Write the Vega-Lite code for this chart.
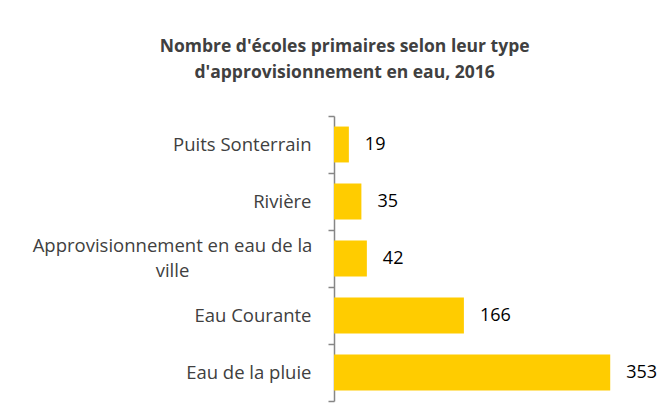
{
  "$schema": "https://vega.github.io/schema/vega-lite/v6.json",
  "width": 313,
  "height": 285,
  "autosize": {"type": "none"},
  "padding": {"left": 334, "top": 116, "right": 20, "bottom": 17},
  "background": "white",
  "title": {
    "text": ["Nombre d'écoles primaires selon leur type", "d'approvisionnement en eau, 2016"],
    "frame": "bounds",
    "anchor": "middle",
    "font": "Open Sans",
    "fontSize": 17.5,
    "fontWeight": "bold",
    "color": "#404040",
    "lineHeight": 26,
    "offset": 26
  },
  "data": {
    "values": [
      {"type": "Puits Sonterrain", "n": 19},
      {"type": "Rivière", "n": 35},
      {"type": "Approvisionnement en eau de la ville", "n": 42},
      {"type": "Eau Courante", "n": 166},
      {"type": "Eau de la pluie", "n": 353}
    ]
  },
  "config": {"view": {"stroke": null}},
  "encoding": {
    "y": {
      "field": "type",
      "type": "nominal",
      "sort": null,
      "scale": {"paddingInner": 0, "paddingOuter": 0},
      "axis": {
        "title": null,
        "labelFont": "Open Sans",
        "labelFontSize": 18.5,
        "labelColor": "#404040",
        "labelPadding": {"condition": {"test": "datum.value == 'Approvisionnement en eau de la ville'", "value": 156}, "value": 17},
        "labelAlign": {"condition": {"test": "datum.value == 'Approvisionnement en eau de la ville'", "value": "center"}, "value": "right"},
        "labelLimit": 400,
        "labelLineHeight": 25,
        "labelOffset": {"condition": {"test": "datum.value == 'Approvisionnement en eau de la ville'", "value": -13}, "value": 0},
        "labelExpr": "datum.label == 'Approvisionnement en eau de la ville' ? ['Approvisionnement en eau de la', 'ville'] : datum.label",
        "domainColor": "#868686",
        "domainWidth": 1.5,
        "ticks": true,
        "tickColor": "#868686",
        "tickSize": 6,
        "tickWidth": 1.5,
        "tickBand": "extent"
      }
    },
    "x": {
      "field": "n",
      "type": "quantitative",
      "scale": {"domain": [0, 400], "nice": false},
      "axis": null
    }
  },
  "layer": [
    {"mark": {"type": "bar", "color": "#FFCC00", "cornerRadius": 0, "height": {"band": 0.63}}},
    {
      "mark": {"type": "text", "align": "left", "dx": 16, "font": "Open Sans", "fontSize": 18, "color": "#000000", "clip": false},
      "encoding": {"text": {"field": "n", "type": "quantitative"}}
    }
  ]
}
